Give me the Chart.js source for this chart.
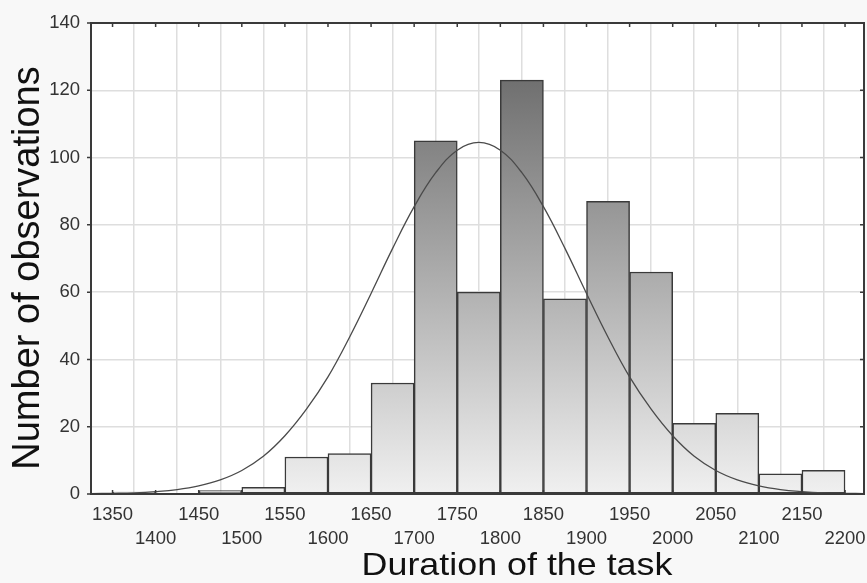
<!DOCTYPE html>
<html>
<head>
<meta charset="utf-8">
<script src="https://cdn.jsdelivr.net/npm/chart.js@4/dist/chart.umd.min.js"></script>
<style>
  body { margin: 0; background: #f8f8f8; }
  #wrap { width: 867px; height: 583px; }
</style>
</head>
<body>
<div id="wrap"><canvas id="histChart"></canvas></div>
<script>
  // ---------- data ----------
  const binCenters = [1375, 1425, 1475, 1525, 1575, 1625, 1675, 1725, 1775, 1825, 1875, 1925, 1975, 2025, 2075, 2125, 2175];
  const counts = [0.6, null, 1, 2, 11, 12, 33, 105, 60, 123, 58, 87, 66, 21, 24, 6, 7];

  // expected normal curve, read point by point
  const curveX = [1325, 1350, 1375, 1400, 1425, 1450, 1475, 1500, 1525, 1550, 1575, 1600, 1625, 1650, 1675, 1700, 1725, 1750,
    1775, 1800, 1825, 1850, 1875, 1900, 1925, 1950, 1975, 2000, 2025, 2050, 2075, 2100, 2125, 2150, 2175, 2200, 2225];
  const curveY = [0.1, 0.2, 0.35, 0.7, 1.3, 2.4, 4.2, 7, 11.2, 17.3, 25.2, 34.8, 46.6, 59.6, 73, 85.4, 95.5, 102.2,
    104.5, 102.2, 95.5, 85.4, 73, 59.6, 46.6, 34.8, 25.2, 17.3, 11.2, 7, 4.2, 2.4, 1.3, 0.7, 0.35, 0.2, 0.1];

  const xTicks = [1350, 1400, 1450, 1500, 1550, 1600, 1650, 1700, 1750, 1800, 1850, 1900, 1950, 2000, 2050, 2100, 2150, 2200];
  const yTicks = [0, 20, 40, 60, 80, 100, 120, 140];

  const xTitle = 'Duration of the task';
  const yTitle = 'Number of observations';

  // ---------- frame, background, titles ----------
  const framePlugin = {
    id: 'frame',
    beforeDraw(chart) {
      const { ctx, chartArea: a, width, height } = chart;
      ctx.save();
      ctx.fillStyle = '#f8f8f8';
      ctx.fillRect(0, 0, width, height);
      ctx.fillStyle = '#ffffff';
      ctx.fillRect(a.left, a.top, a.right - a.left, a.bottom - a.top);
      ctx.restore();
    },
    afterDraw(chart) {
      const { ctx, chartArea: a, scales } = chart;
      ctx.save();
      ctx.strokeStyle = '#3a3a3a';
      ctx.lineWidth = 2;
      ctx.strokeRect(a.left, a.top, a.right - a.left, a.bottom - a.top);

      // small tick marks on the frame
      ctx.lineWidth = 1.5;
      ctx.beginPath();
      xTicks.forEach(v => {
        const px = scales.x.getPixelForValue(v);
        ctx.moveTo(px, a.bottom); ctx.lineTo(px, a.bottom - 4);
        ctx.moveTo(px, a.top); ctx.lineTo(px, a.top + 4);
      });
      yTicks.forEach(v => {
        const py = scales.y.getPixelForValue(v);
        ctx.moveTo(a.left, py); ctx.lineTo(a.left - 4, py);
        ctx.moveTo(a.right, py); ctx.lineTo(a.right - 4, py);
      });
      ctx.stroke();

      // axis titles
      ctx.fillStyle = '#111111';
      ctx.textAlign = 'center';
      ctx.textBaseline = 'middle';
      ctx.font = '32px "Liberation Sans", Arial, sans-serif';
      ctx.save();
      ctx.translate(517, 566);
      ctx.scale(1.12, 1);
      ctx.fillText(xTitle, 0, 0);
      ctx.restore();

      ctx.font = '38px "Liberation Sans", Arial, sans-serif';
      ctx.translate(29, 268);
      ctx.rotate(-Math.PI / 2);
      ctx.fillText(yTitle, 0, 0);
      ctx.restore();
    }
  };

  function barGradient(context) {
    const chart = context.chart;
    if (!chart.chartArea) return '#cccccc';
    const y0 = chart.scales.y.getPixelForValue(0);
    const y1 = chart.scales.y.getPixelForValue(140);
    const g = chart.ctx.createLinearGradient(0, y0, 0, y1);
    g.addColorStop(0, '#f0f0f0');
    g.addColorStop(1, '#5e5e5e');
    return g;
  }

  const tickFont = { family: '"Liberation Sans", Arial, sans-serif', size: 18.5 };

  new Chart(document.getElementById('histChart'), {
    type: 'bar',
    data: {
      datasets: [
        {
          type: 'line',
          data: curveX.map((x, i) => ({ x: x, y: curveY[i] })),
          borderColor: '#4a4a4a',
          borderWidth: 1.3,
          pointRadius: 0,
          tension: 0.4,
          fill: false,
          order: 1
        },
        {
          type: 'bar',
          data: binCenters.map((x, i) => ({ x: x, y: counts[i] })),
          backgroundColor: barGradient,
          borderColor: '#3a3a3a',
          borderWidth: 1.5,
          borderSkipped: false,
          barPercentage: 1,
          categoryPercentage: 1,
          grouped: false,
          order: 2
        }
      ]
    },
    plugins: [framePlugin],
    options: {
      responsive: true,
      maintainAspectRatio: false,
      animation: false,
      layout: { padding: { left: 0, right: 3, top: 23, bottom: 0 } },
      plugins: {
        legend: { display: false },
        tooltip: { enabled: false }
      },
      scales: {
        x: {
          type: 'linear',
          min: 1325,
          max: 2222,
          offset: false,
          afterBuildTicks: s => { s.ticks = xTicks.map(v => ({ value: v })); },
          afterFit: s => { s.height = 89; s.paddingLeft = 0; s.paddingRight = 0; },
          grid: { color: '#dedede', lineWidth: 1.5, drawTicks: false },
          border: { display: false },
          ticks: {
            autoSkip: false,
            maxRotation: 0,
            minRotation: 0,
            padding: 9,
            color: '#333333',
            font: Object.assign({ lineHeight: 1.3 }, tickFont),
            callback: value => {
              const i = xTicks.indexOf(value);
              return i % 2 === 0 ? String(value) : ['', String(value)];
            }
          }
        },
        y: {
          min: 0,
          max: 140,
          afterBuildTicks: s => { s.ticks = yTicks.map(v => ({ value: v })); },
          afterFit: s => { s.width = 91; s.paddingTop = 0; s.paddingBottom = 0; },
          grid: { color: '#dedede', lineWidth: 1.5, drawTicks: false },
          border: { display: false },
          ticks: {
            padding: 11,
            color: '#333333',
            font: tickFont
          }
        }
      }
    }
  });
</script>
</body>
</html>
